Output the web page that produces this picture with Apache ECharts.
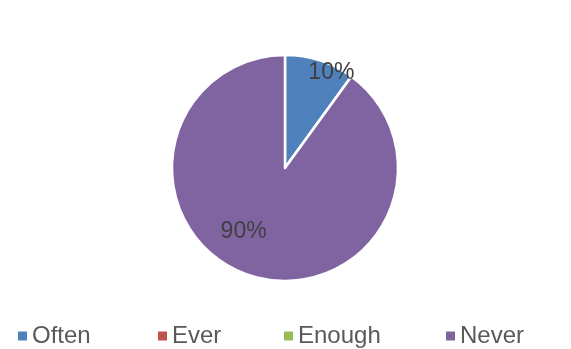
<!DOCTYPE html>
<html>
<head>
<meta charset="utf-8">
<script src="https://cdn.jsdelivr.net/npm/echarts@6/dist/echarts.min.js"></script>
<style>
html,body{margin:0;padding:0;background:#fff;}
#c{width:571px;height:349px;}
</style>
</head>
<body>
<div id="c"></div>
<script>
var categories = ['Often', 'Ever', 'Enough', 'Never'];
var values = [10, 0, 0, 90];
var colors = ['#4F81BD', '#C0504D', '#9BBB59', '#8064A2'];
var legendLefts = [13, 153, 279, 441];

var FONT = '"Liberation Sans", Arial, sans-serif';
var chart = echarts.init(document.getElementById('c'), null, {renderer: 'canvas'});

var data = categories.map(function (name, i) {
  return {
    name: name,
    value: values[i],
    itemStyle: {color: colors[i]},
    label: {show: values[i] > 0}
  };
});

var labelShift = {
  0: {dx: 28, dy: -39},
  3: {dx: -23, dy: 7}
};

var legends = categories.map(function (name, i) {
  return {
    data: [name],
    left: legendLefts[i],
    top: 319,
    orient: 'horizontal',
    icon: 'rect',
    itemWidth: 9,
    itemHeight: 9,
    itemGap: 10,
    itemStyle: {borderWidth: 0},
    selectedMode: false,
    textStyle: {fontFamily: FONT, fontSize: 24, color: '#595959', lineHeight: 24, padding: [0, 0, 0, 0]}
  };
});

chart.setOption({
  animation: false,
  backgroundColor: '#fff',
  legend: legends,
  series: [{
    type: 'pie',
    center: [285, 168],
    radius: [0, 113],
    startAngle: 90,
    clockwise: true,
    avoidLabelOverlap: false,
    itemStyle: {borderColor: '#fff', borderWidth: 2.5},
    label: {
      position: 'inside',
      fontFamily: FONT,
      fontSize: 23,
      color: '#404040',
      formatter: function (p) { return p.value + '%'; }
    },
    labelLine: {show: false},
    labelLayout: function (p) {
      var s = labelShift[p.dataIndex];
      return s ? {dx: s.dx, dy: s.dy} : {};
    },
    emphasis: {disabled: true},
    data: data
  }]
});
</script>
</body>
</html>
